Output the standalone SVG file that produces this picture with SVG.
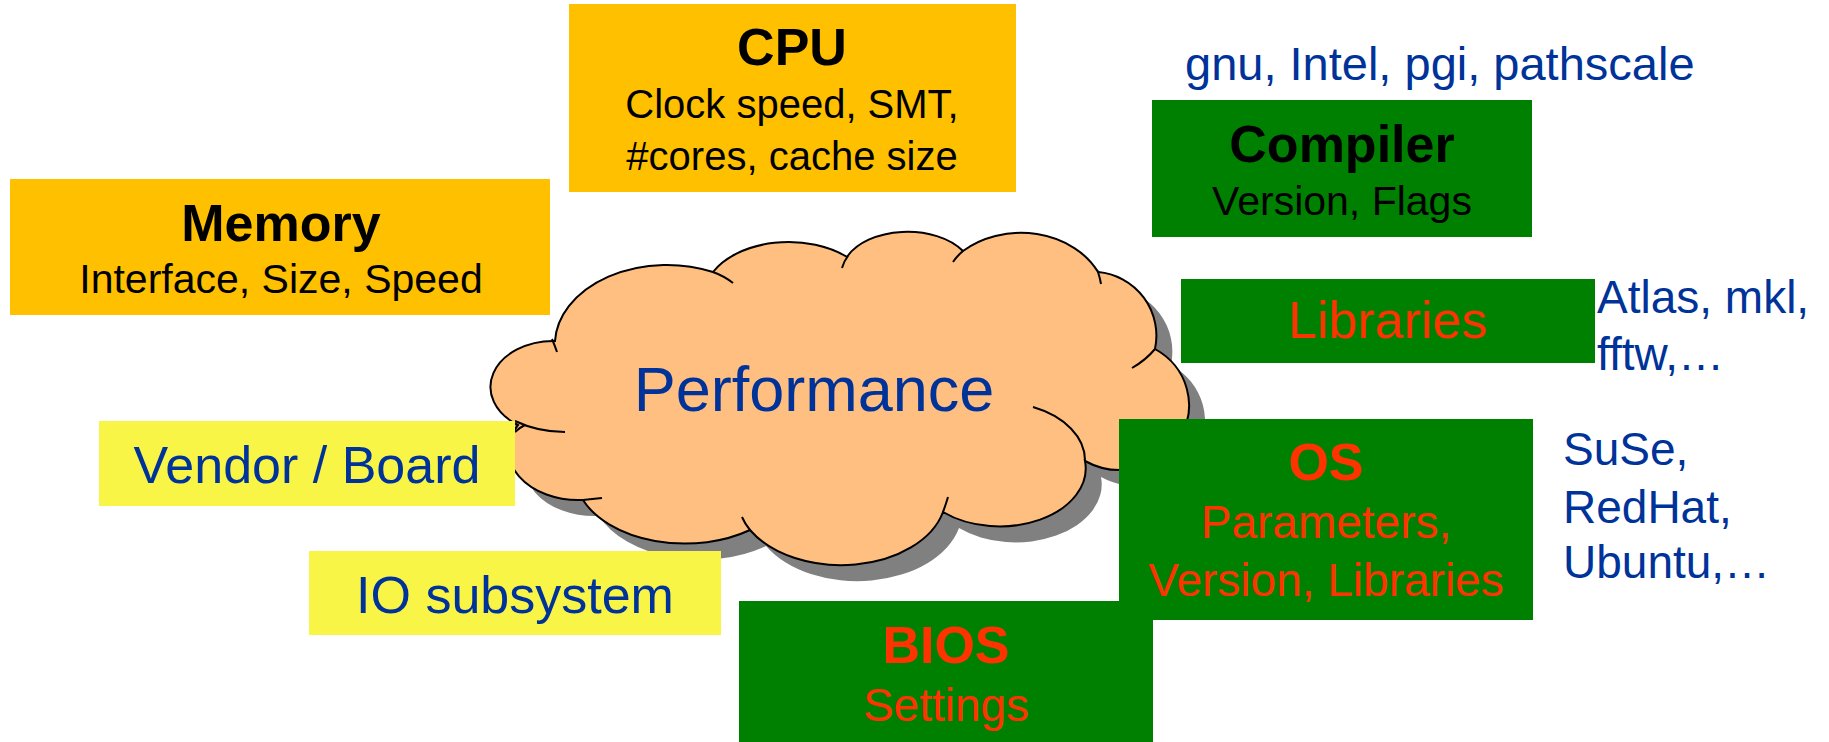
<svg xmlns="http://www.w3.org/2000/svg" width="1829" height="742" viewBox="0 0 1829 742">
<style>
text{font-family:"Liberation Sans",Arial,sans-serif}
.orange{fill:#FFC000}
.green{fill:#008000}
.yellow{fill:#F8F547}
.t{text-anchor:middle}
.b{font-weight:bold}
.blk{fill:#000}
.red{fill:#FF3300}
.blue{fill:#003399}
.tail{fill:none;stroke:#000;stroke-width:2}
</style>
<defs>
<path id="cloudShape" d="M 555 341 A 112 80 0 0 1 713 272 A 85 55 0 0 1 847 257 A 65 40 0 0 1 963 251 A 86 70 0 0 1 1098 272 A 64 64 0 0 1 1155 349 A 68 64 0 0 1 1085 461 A 86 58 0 0 1 943 512 A 105 70 0 0 1 750 530 A 110 70 0 0 1 583 500 A 70 50 0 0 1 518 425 A 63 46 0 0 1 555 341 Z"/>
</defs>
<rect width="1829" height="742" fill="#fff"/>
<g id="connectors"/>
<g id="node-performance">
<use href="#cloudShape" transform="translate(16,16)" fill="#808080"/>
<use href="#cloudShape" fill="#FFBF80" stroke="#000" stroke-width="2"/>
<path class="tail" d="M 552 339 Q 555 346 557 352 M 713 272 Q 724 276 733 283 M 848 256 Q 844 261 842 268 M 963 251 Q 957 256 953 262 M 1098 272 Q 1100 278 1101 284 M 1155 349 Q 1146 360 1132 368 M 1033 407 A 86 58 0 0 1 1085 461 M 943 512 Q 946 504 948 497 M 750 530 Q 745 524 742 517 M 583 500 Q 592 499 602 498 M 515 421 Q 538 432 565 432 M 515 432 Q 519 428 525 425"/>
<text class="t blue" x="814" y="411" font-size="63">Performance</text>
</g>
<g id="node-cpu">
<rect class="orange" x="569" y="4" width="447" height="188"/>
<text class="t b blk" x="792" y="65" font-size="52">CPU</text>
<text class="t blk" x="792" y="118" font-size="40">Clock speed, SMT,</text>
<text class="t blk" x="792" y="170" font-size="40">#cores, cache size</text>
</g>
<g id="node-memory">
<rect class="orange" x="10" y="179" width="540" height="136"/>
<text class="t b blk" x="281" y="241" font-size="52">Memory</text>
<text class="t blk" x="281" y="293" font-size="41">Interface, Size, Speed</text>
</g>
<g id="node-compiler">
<text class="blue" x="1185" y="80" font-size="47">gnu, Intel, pgi, pathscale</text>
<rect class="green" x="1152" y="100" width="380" height="137"/>
<text class="t b blk" x="1342" y="162" font-size="52">Compiler</text>
<text class="t blk" x="1342" y="215" font-size="41">Version, Flags</text>
</g>
<g id="node-libraries">
<rect class="green" x="1181" y="279" width="414" height="84"/>
<text class="t red" x="1388" y="338" font-size="52">Libraries</text>
<text class="blue" x="1597" y="313" font-size="46">Atlas, mkl,</text>
<text class="blue" x="1597" y="370" font-size="46">fftw,…</text>
</g>
<g id="node-vendor">
<rect class="yellow" x="99" y="421" width="416" height="85"/>
<text class="t blue" x="307" y="483" font-size="52">Vendor / Board</text>
</g>
<g id="node-io">
<rect class="yellow" x="309" y="551" width="412" height="84"/>
<text class="t blue" x="515" y="613" font-size="52">IO subsystem</text>
</g>
<g id="node-bios">
<rect class="green" x="739" y="601" width="414" height="141"/>
<text class="t b red" x="946" y="663" font-size="52">BIOS</text>
<text class="t red" x="946" y="721" font-size="46">Settings</text>
</g>
<g id="node-os">
<rect class="green" x="1119" y="419" width="414" height="201"/>
<text class="t b red" x="1326" y="480" font-size="52">OS</text>
<text class="t red" x="1326" y="538" font-size="46">Parameters,</text>
<text class="t red" x="1326" y="596" font-size="46">Version, Libraries</text>
<text class="blue" x="1563" y="465" font-size="46">SuSe,</text>
<text class="blue" x="1563" y="523" font-size="46">RedHat,</text>
<text class="blue" x="1563" y="578" font-size="46">Ubuntu,…</text>
</g>
</svg>
